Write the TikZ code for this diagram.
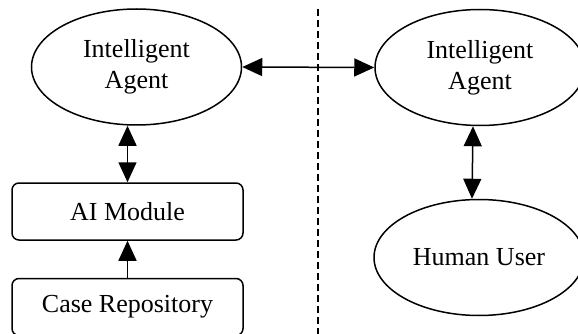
\documentclass[tikz,border=0pt]{standalone}
\usepackage{fontspec}
\setmainfont{Liberation Serif}
\usetikzlibrary{shapes.geometric,arrows.meta}
\begin{document}
\begin{tikzpicture}[x=1pt,y=-1pt,
  every node/.style={font=\fontsize{26}{31}\selectfont, align=center, inner sep=0pt},
  agent/.style={draw, ellipse, line width=1.5pt, minimum width=210pt, minimum height=116pt},
  modbox/.style={draw, rounded corners=7pt, line width=1.5pt, minimum width=231pt, minimum height=57pt},
  link/.style={line width=1.5pt},
  bigtri/.tip={Triangle[length=20pt,width=18pt]}]
\fill[white] (0,0) rectangle (578,334);
\useasboundingbox (0,0) rectangle (578,334);
\clip (0,0) rectangle (578,334);
\node[agent] (la) at (136.5,67) {Intelligent\\Agent};
\node[agent] (ra) at (480,67.5) {Intelligent\\Agent};
\node[agent] (hu) at (479,257.5) {Human User};
\node[modbox] (ai) at (127.5,211.5) {AI Module};
\node[modbox] (cr) at (127.5,307) {Case Repository};
\coordinate (dtop) at (318,9);
\coordinate (dbot) at (318,334);
\draw[line width=1.5pt, dash pattern=on 7pt off 4pt] (dtop) -- (dbot);
\draw[link, bigtri-bigtri] (la.east) -- (ra.west);
\draw[link, bigtri-bigtri] (ai.north |- la.south) -- (ai.north);
\draw[link, -bigtri] (cr.north) -- (ai.south);
\draw[link, bigtri-bigtri] ([xshift=-7pt]ra.south) -- ([xshift=-7pt]hu.north);
\end{tikzpicture}
\end{document}
